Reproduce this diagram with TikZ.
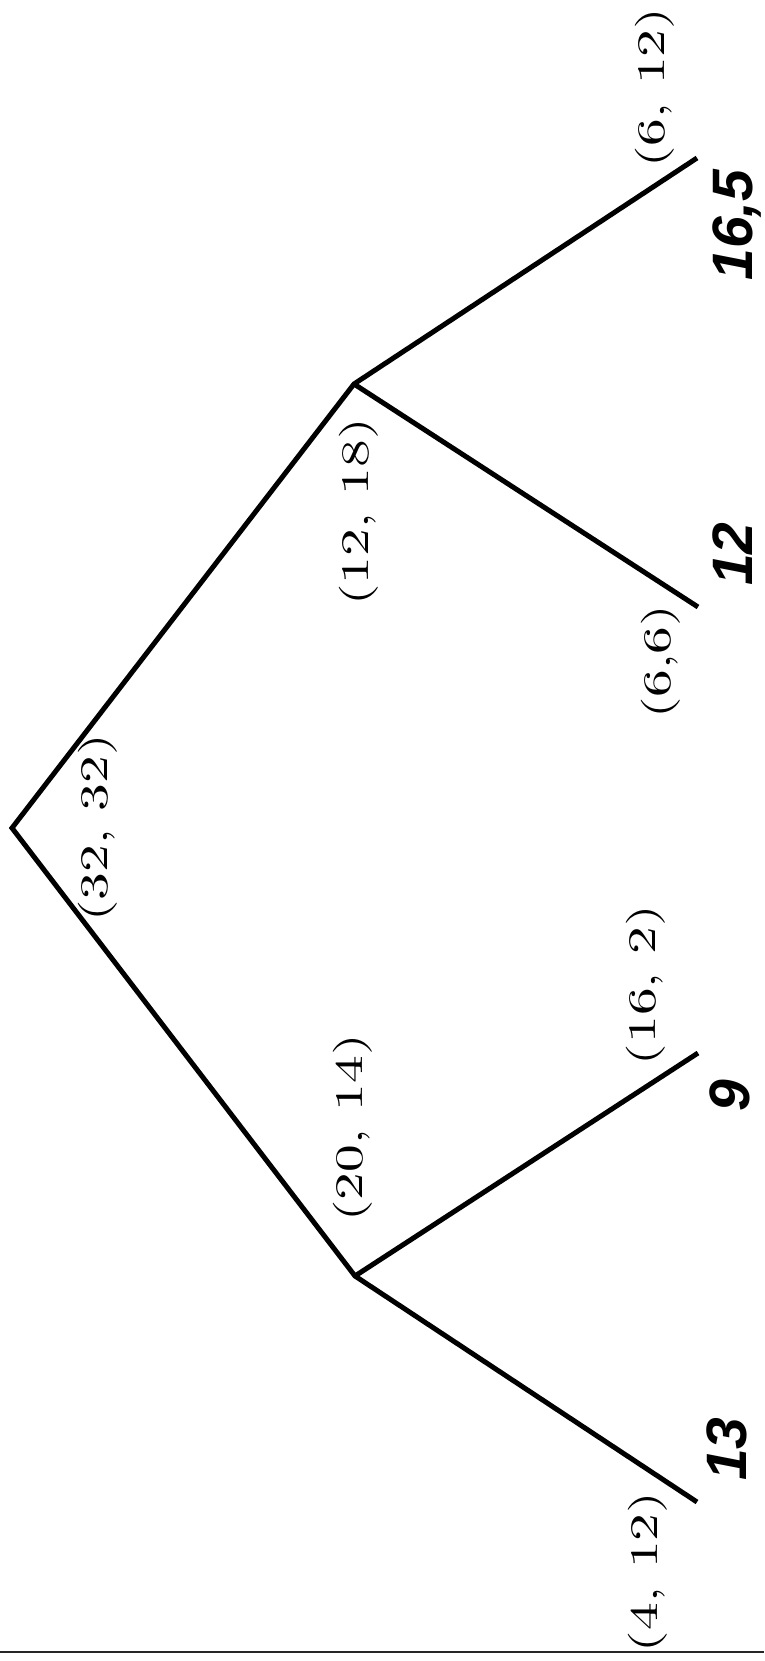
\documentclass[tikz,border=0pt]{standalone}
\usepackage{graphicx}
\usepackage{fontspec}
\newfontfamily\boldsans{Liberation Sans}
\newfontfamily\pairfont{lmroman10-regular.otf}
\begin{document}
\begin{tikzpicture}[x=1pt,y=-1pt,
  branch/.style={line width=5pt, line join=miter},
  pair/.style={rotate=90, inner sep=0pt, font=\pairfont\fontsize{39}{39}\selectfont},
  val/.style={rotate=90, inner sep=0pt, text depth=0pt, font=\boldsans\bfseries\itshape\fontsize{57}{57}\selectfont},
  baseline/.style={line width=2.5pt, draw=black!85}]
\useasboundingbox (0,0) rectangle (764,1661);
\coordinate (root) at (12,828);
\coordinate (A) at (354,384);
\coordinate (B) at (355,1276);
\coordinate (L1) at (697,158);
\coordinate (L2) at (698,607);
\coordinate (L3) at (698,1053);
\coordinate (L4) at (697,1502);
\coordinate (g0) at (0,1652);
\coordinate (g1) at (764,1652);
\draw[branch] (L1) -- (A) -- (root) -- (B) -- (L4);
\draw[branch] (A) -- (L2);
\draw[branch] (B) -- (L3);
\draw[baseline] (g0) -- (g1);
\node[pair] (p0) at (97.5,828) {\scalebox{1.42}[1]{(32, 32)}};
\node[pair] (p1) at (359,512) {\scalebox{1.42}[1]{(12, 18)}};
\node[pair] (p2) at (353,1128) {\scalebox{1.42}[1]{(20, 14)}};
\node[pair] (p3) at (655,88) {\scalebox{1.42}[1]{(6, 12)}};
\node[pair] (p4) at (661,662) {\scalebox{1.42}[1]{(6,6)}};
\node[pair] (p5) at (646,985) {\scalebox{1.42}[1]{(16, 2)}};
\node[pair] (p6) at (648,1572) {\scalebox{1.42}[1]{(4, 12)}};
\node[val] (v1) at (732.5,225) {16,5};
\node[val] (v2) at (732.5,554) {12};
\node[val] (v3) at (730,1096) {9};
\node[val] (v4) at (727,1449) {13};
\end{tikzpicture}
\end{document}
